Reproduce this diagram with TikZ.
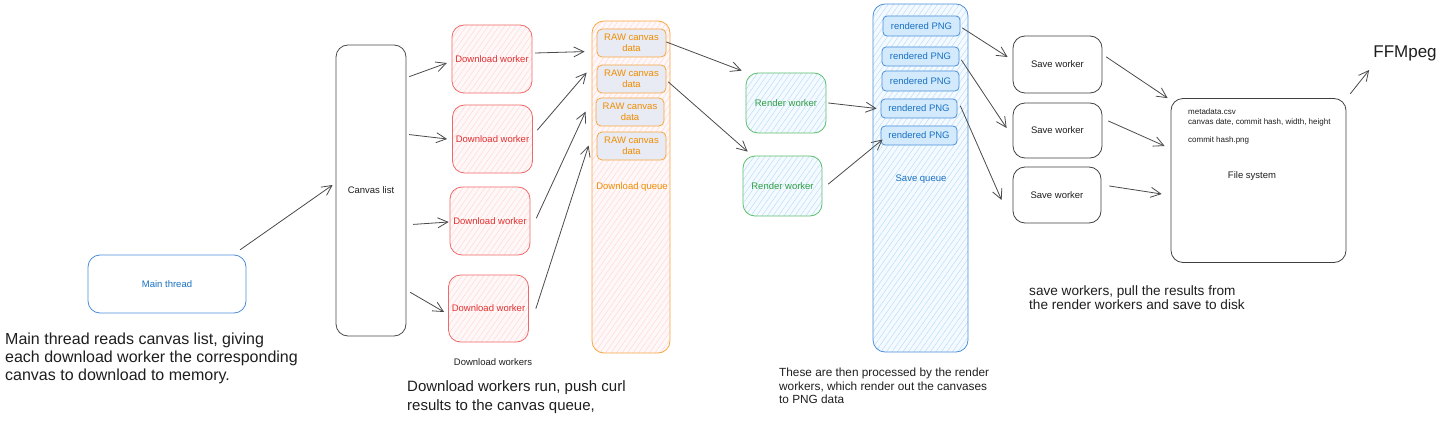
\documentclass[tikz,border=0pt]{standalone}
\usepackage{fontspec}
\setmainfont{Liberation Sans}
\usetikzlibrary{arrows.meta,patterns.meta,calc}
\definecolor{ink}{HTML}{1E1E1E}
\definecolor{arrowc}{HTML}{4A4A4A}
\definecolor{bltxt}{HTML}{1971C2}
\definecolor{blbord}{HTML}{4A8FD9}
\definecolor{rdtxt}{HTML}{E03131}
\definecolor{rdbord}{HTML}{EE6A6A}
\definecolor{ortxt}{HTML}{F08C00}
\definecolor{orbord}{HTML}{F7A540}
\definecolor{grtxt}{HTML}{2F9E44}
\definecolor{grbord}{HTML}{5BBF6B}
\definecolor{pinkfill}{HTML}{FFF8F8}
\definecolor{pinkhatch}{HTML}{FFD3D3}
\definecolor{bluefill}{HTML}{F4FAFF}
\definecolor{bluehatch}{HTML}{B3DAF8}
\definecolor{itemfill}{HTML}{E8EBF4}
\definecolor{pngfill}{HTML}{D3EAFD}
\tikzset{
  x=1pt, y=-1pt,
  sfont/.style={font=\fontsize{9.5}{11}\selectfont},
  box/.style={draw, rounded corners=12pt, line width=0.8pt, inner sep=0pt, sfont, align=center},
  pinkhatched/.style={preaction={fill=pinkfill}, pattern={Lines[angle=55,distance=4.5pt,line width=0.4pt]}, pattern color=pinkhatch},
  bluehatched/.style={preaction={fill=bluefill}, pattern={Lines[angle=55,distance=4.5pt,line width=0.4pt]}, pattern color=bluehatch},
  mainbox/.style={box, draw=blbord, text=bltxt, fill=white},
  listbox/.style={box, draw=ink!80, text=ink, fill=white},
  dwbox/.style={box, draw=rdbord, text=rdtxt, pinkhatched, minimum width=80pt, minimum height=68pt},
  queuebox/.style={box, draw=orbord, pinkhatched},
  rawbox/.style={box, rounded corners=5pt, draw=orbord, text=ortxt, fill=itemfill, minimum width=69pt, minimum height=28pt, font=\fontsize{9.5}{10.5}\selectfont},
  rwbox/.style={box, draw=grbord, text=grtxt, bluehatched, minimum width=80pt, minimum height=60pt},
  sqbox/.style={box, draw=blbord, bluehatched},
  pngbox/.style={box, rounded corners=4pt, draw=blbord, text=bltxt, fill=pngfill, minimum width=77pt, minimum height=19pt},
  swbox/.style={box, draw=ink!85, text=ink, fill=white, minimum width=89pt, minimum height=56pt},
  fsbox/.style={box, draw=ink!85, fill=white},
  plain/.style={inner sep=0pt, text=ink},
  fstext/.style={plain, anchor=west, font=\fontsize{8}{9}\selectfont},
  note/.style={plain, align=left, anchor=north west},
  arr/.style={draw=arrowc, line width=0.8pt, line cap=round, -{Straight Barb[length=10pt,width=10pt]}}
}
\begin{document}
\begin{tikzpicture}
\useasboundingbox (0,0) rectangle (1440,441);

% main thread and canvas list
\node[mainbox, minimum width=158pt, minimum height=58pt] (main) at (167,284) {Main thread};
\node[listbox, minimum width=70pt, minimum height=291pt] (clist) at (371,190.5) {Canvas list};

% download workers
\node[dwbox] (dw1) at (492,59) {Download worker};
\node[dwbox] (dw2) at (492.5,139) {Download worker};
\node[dwbox] (dw3) at (490,221) {Download worker};
\node[dwbox, minimum height=67pt] (dw4) at (488.5,308.5) {Download worker};
\node[plain, sfont] (dwlabel) at (493,362) {Download workers};

% download queue
\node[queuebox, minimum width=78pt, minimum height=332pt] (dq) at (631,187) {};
\node[plain, sfont, text=ortxt] (dqlabel) at (632,187) {Download queue};
\node[rawbox] (r1) at (631.5,43) {RAW canvas\\data};
\node[rawbox] (r2) at (631.5,79) {RAW canvas\\data};
\node[rawbox, minimum width=68pt] (r3) at (630,112) {RAW canvas\\data};
\node[rawbox] (r4) at (631.5,146) {RAW canvas\\data};

% render workers
\node[rwbox] (rw1) at (786,103) {Render worker};
\node[rwbox, minimum width=79pt] (rw2) at (782.5,186) {Render worker};

% save queue
\node[sqbox, minimum width=95pt, minimum height=348pt] (sq) at (920.5,178) {};
\node[plain, sfont, text=bltxt] (sqlabel) at (921,179) {Save queue};
\node[pngbox, minimum height=20pt] (p1) at (921.5,26) {rendered PNG};
\node[pngbox] (p2) at (920.5,56.5) {rendered PNG};
\node[pngbox, minimum height=20pt] (p3) at (920.5,81) {rendered PNG};
\node[pngbox, minimum width=76pt] (p4) at (919,108.5) {rendered PNG};
\node[pngbox, minimum width=76pt] (p5) at (919,135.5) {rendered PNG};

% save workers
\node[swbox, minimum height=57pt] (sw1) at (1057.5,64.5) {Save worker};
\node[swbox, minimum height=55pt] (sw2) at (1057.5,130.5) {Save worker};
\node[swbox, minimum width=88pt] (sw3) at (1057,195) {Save worker};

% file system
\node[fsbox, minimum width=175pt, minimum height=164pt] (fs) at (1258.5,180.5) {};
\node[fstext] (fsmeta) at (1188,112) {metadata.csv};
\node[fstext] (fscols) at (1188,122.5) {canvas date, commit hash, width, height};
\node[fstext] (fspng) at (1188,140) {commit hash.png};
\node[plain, sfont] (fslabel) at (1252,176) {File system};
\node[plain, font=\fontsize{17}{20}\selectfont] (ffmpeg) at (1405,53) {FFMpeg};

% notes
\node[note, font=\fontsize{16}{18}\selectfont] (t1) at (5,333) {Main thread reads canvas list, giving\\each download worker the corresponding\\canvas to download to memory.};
\node[note, font=\fontsize{15}{19}\selectfont] (t2) at (407,380) {Download workers run, push curl\\results to the canvas queue,};
\node[note, font=\fontsize{11.8}{13.5}\selectfont] (t3) at (779,368) {These are then processed by the render\\workers, which render out the canvases\\to PNG data};
\node[note, font=\fontsize{13.6}{14.5}\selectfont] (t4) at (1029,285) {save workers, pull the results from\\the render workers and save to disk};

% connectors
\draw[arr] ($(main.north east)+(-6,-5)$) -- ($(clist.west)+(-3,-5.5)$);
\draw[arr] ($(clist.north east)+(3,32)$) -- ($(dw1.west)+(-5,4)$);
\draw[arr] ($(clist.north east)+(3,90)$) -- ($(dw2.west)+(-5,0)$);
\draw[arr] ($(clist.south east)+(7,-112)$) -- ($(dw3.west)+(-1,1)$);
\draw[arr] ($(clist.south east)+(4,-44)$) -- ($(dw4.west)+(-4,3.5)$);

\draw[arr] ($(dw1.east)+(3,-6)$) -- ($(dq.north west)+(-7,31)$);
\draw[arr] ($(dw2.east)+(4.5,-9)$) -- ($(dq.north west)+(-5,52)$);
\draw[arr] ($(dw3.east)+(6,-3)$) -- ($(dq.north west)+(-6,91)$);
\draw[arr] ($(dw4.east)+(7,0)$) -- ($(dq.north west)+(-3,125)$);

\draw[arr] ($(r1.east)+(0,-1)$) -- ($(rw1.north west)+(-4,-2)$);
\draw[arr] ($(r2.east)+(2,3)$) -- ($(rw2.north west)+(5,-4)$);

\draw[arr] ($(rw1.east)+(2,0)$) -- ($(p4.west)+(-4,0)$);
\draw[arr] ($(rw2.east)+(6,-2)$) -- ($(p5.west)+(2,4)$);

\draw[arr] ($(p1.east)+(2,2)$) -- ($(sw1.west)+(-5,-7.5)$);
\draw[arr] ($(p2.east)+(2,3.5)$) -- ($(sw2.west)+(-6,-2.5)$);
\draw[arr] ($(p4.east)+(3,-2.5)$) -- ($(sw3.west)+(-11,5)$);

\draw[arr] ($(sw1.east)+(4,-7.5)$) -- ($(fs.north west)+(-3,0)$);
\draw[arr] ($(sw2.east)+(6,-9.5)$) -- ($(fs.west)+(-6,-34.5)$);
\draw[arr] ($(sw3.east)+(8,-9)$) -- ($(fs.west)+(-9,13.5)$);
\draw[arr] ($(fs.north east)+(4,-4.5)$) -- ($(ffmpeg.west)+(-4,17)$);
\end{tikzpicture}
\end{document}
